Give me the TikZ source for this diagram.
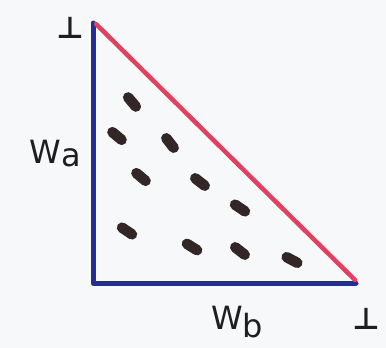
\documentclass[tikz,border=0pt]{standalone}
\usepackage{fontspec}
\setmainfont{DejaVu Sans}
\definecolor{penblue}{RGB}{35,45,150}
\definecolor{penred}{RGB}{225,65,95}
\definecolor{pendark}{RGB}{50,38,38}
\definecolor{penink}{RGB}{30,30,30}
\definecolor{paper}{RGB}{246,248,250}
\begin{document}
\begin{tikzpicture}[x=1pt,y=-1pt,
  blueline/.style={draw=penblue,line width=5pt,line cap=round,line join=round},
  redline/.style={draw=penred,line width=4.5pt,line cap=round},
  dot/.style={draw=pendark,line width=10.5pt,line cap=round},
  lbl/.style={text=penink,inner sep=0pt,font=\fontsize{32}{32}\selectfont},
  perp/.style={text=penink,inner sep=0pt,font=\bfseries\fontsize{30}{30}\selectfont}]
\fill[paper] (0,0) rectangle (386,348);
\useasboundingbox (0,0) rectangle (386,348);
\coordinate (top) at (93,23);
\coordinate (corner) at (93,283);
\coordinate (right) at (356,283);
\coordinate (rtop) at (96,24);
\coordinate (rright) at (355,280);
\draw[blueline] (top) -- (corner) -- (right);
\draw[redline] (rtop) -- (rright);
% dashes
\foreach \cx/\cy/\a in {132/102/50, 117/136/40, 170/143/52, 141/177/40, 200/182/38, 240/208/34, 127/231/34, 192/247/32, 240/251/38, 292/260/28}{
  \draw[dot] (\cx,\cy) ++(\a+180:6) -- ++(\a:12);
}
\node[perp] (p1) at (70,28) {⊥};
\node[perp] (p2) at (366,319) {⊥};
\node[lbl] (wa) at (55,154) {W\raisebox{-3pt}{a}};
\node[lbl] (wb) at (237,322) {W\raisebox{-8pt}{b}};
\end{tikzpicture}
\end{document}
